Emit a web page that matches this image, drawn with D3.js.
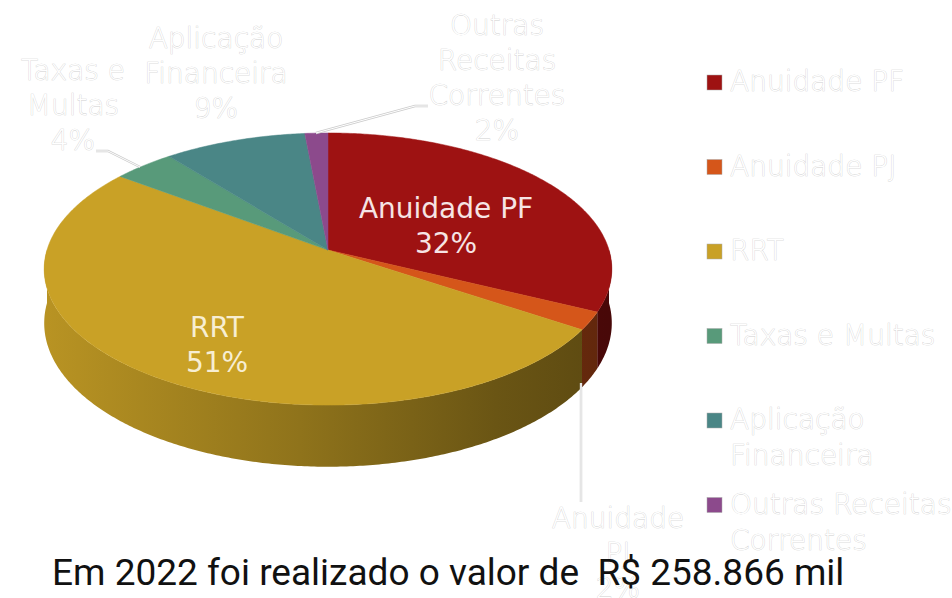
<!DOCTYPE html>
<html lang="pt">
<head>
<meta charset="UTF-8">
<title>Receitas 2022</title>
<script src="https://d3js.org/d3.v7.min.js"></script>
<style>
  body { margin: 0; background: #fff; }
  text.ghost { fill: #fff; stroke: #cfcfcf; stroke-width: 0.7px; paint-order: stroke; font-family: "DejaVu Sans", sans-serif; font-weight: 200; font-size: 28px; }
  text.inner { font-family: "DejaVu Sans", sans-serif; font-size: 28px; }
  text.footer { font-family: Roboto, sans-serif; font-size: 37px; fill: #111; white-space: pre; }
</style>
</head>
<body>
<svg width="952" height="598"></svg>
<script>
// dados
const categories = ["Anuidade PF", "Anuidade PJ", "RRT", "Taxas e Multas", "Aplicação Financeira", "Outras Receitas Correntes"];
const shares = [32.2, 2.1, 50.9, 4.0, 9.3, 1.5];
const colors = ["#9e1212", "#d5561a", "#c9a126", "#589a7a", "#4a8686", "#8c4a8c"];
const legendLines = [["Anuidade PF"], ["Anuidade PJ"], ["RRT"], ["Taxas e Multas"], ["Aplicação", "Financeira"], ["Outras Receitas", "Correntes"]];
const labelLines = [["Anuidade PF"], ["Anuidade", "PJ"], ["RRT"], ["Taxas e", "Multas"], ["Aplicação", "Financeira"], ["Outras", "Receitas", "Correntes"]];
const footer = "Em 2022 foi realizado o valor de  R$ 258.866 mil";

// layout
const cx = 328, cy = 250, R = 281, H = 133.4, k = 0.14, depth = 53;
const labelPos = [
  {x: 446, y: 218, inner: true, fill: "#f6e4e4"},
  {x: 618, y: 528},
  {x: 217, y: 337, inner: true, fill: "#f7eed2"},
  {x: 73, y: 80},
  {x: 216, y: 48},
  {x: 497, y: 35}
];
const leaders = [
  null,
  [[581, 383], [581, 502]],
  null,
  [[96, 151], [108, 151], [140, 167]],
  null,
  [[428, 106], [415, 106], [316, 133]]
];

const svg = d3.select("svg");
const defs = svg.append("defs");

// projecao simples em perspectiva: a = angulo (0 no topo, horario), z = profundidade
function proj(a, z) {
  const u = Math.sin(a), v = -Math.cos(a);
  const s = 1 / (1 - k * v);
  return [cx + R * u * s, cy + H * v * s + z * s];
}

const pie = d3.pie().sort(null).value(d => d)(shares);
const line = d3.line();

function arcPts(a0, a1, z) {
  const n = Math.max(2, Math.ceil((a1 - a0) / 0.01));
  return d3.range(n + 1).map(i => proj(a0 + (a1 - a0) * i / n, z));
}

// gradientes da lateral
colors.forEach((c, i) => {
  const g = defs.append("linearGradient").attr("id", "side" + i)
    .attr("gradientUnits", "userSpaceOnUse")
    .attr("x1", cx - R).attr("x2", cx + R).attr("y1", 0).attr("y2", 0);
  [[0, 0.25], [0.45, 0.95], [0.8, 1.8], [1, 2.2]].forEach(([o, dk]) => {
    g.append("stop").attr("offset", o).attr("stop-color", d3.color(c).darker(dk));
  });
});

// lateral (apenas a metade da frente)
const sides = svg.append("g");
pie.forEach((d, i) => {
  const a0 = Math.max(d.startAngle, Math.PI / 2);
  const a1 = Math.min(d.endAngle, Math.PI * 3 / 2);
  if (a1 <= a0) return;
  const top = arcPts(a0, a1, 0);
  const bot = arcPts(a0, a1, depth).reverse();
  sides.append("path")
    .attr("d", line(top.concat(bot)) + "Z")
    .attr("fill", "url(#side" + i + ")");
});

// face superior
const topG = svg.append("g");
pie.forEach((d, i) => {
  const pts = [[cx, cy]].concat(arcPts(d.startAngle, d.endAngle, 0));
  topG.append("path")
    .attr("d", line(pts) + "Z")
    .attr("fill", colors[i])
    .attr("stroke", colors[i]).attr("stroke-width", 0.5);
});

// linhas de chamada
leaders.forEach(l => {
  if (!l) return;
  svg.append("path").attr("d", line(l)).attr("fill", "none").attr("stroke", "#cccccc").attr("stroke-width", 2.4);
  svg.append("path").attr("d", line(l)).attr("fill", "none").attr("stroke", "#fff").attr("stroke-width", 1);
});

// rotulos
pie.forEach((d, i) => {
  const p = labelPos[i];
  const lines = labelLines[i].concat([Math.round(d.data) + "%"]);
  const t = svg.append("text")
    .attr("class", p.inner ? "inner" : "ghost")
    .attr("text-anchor", "middle")
    .attr("fill", p.fill || null);
  lines.forEach((s, j) => {
    t.append("tspan").attr("x", p.x).attr("y", p.y + j * 35).text(s);
  });
});

// legenda
const leg = svg.append("g");
categories.forEach((c, i) => {
  const y = 75 + i * 84.5;
  leg.append("rect").attr("x", 707).attr("y", y).attr("width", 15).attr("height", 15)
    .attr("fill", colors[i]).attr("stroke", "#aaa").attr("stroke-width", 0.5);
  const t = leg.append("text").attr("class", "ghost");
  legendLines[i].forEach((s, j) => {
    t.append("tspan").attr("x", 730).attr("y", y + 16 + j * 36).text(s);
  });
});

svg.append("text").attr("class", "footer").attr("x", 52).attr("y", 585).text(footer);
</script>
</body>
</html>
